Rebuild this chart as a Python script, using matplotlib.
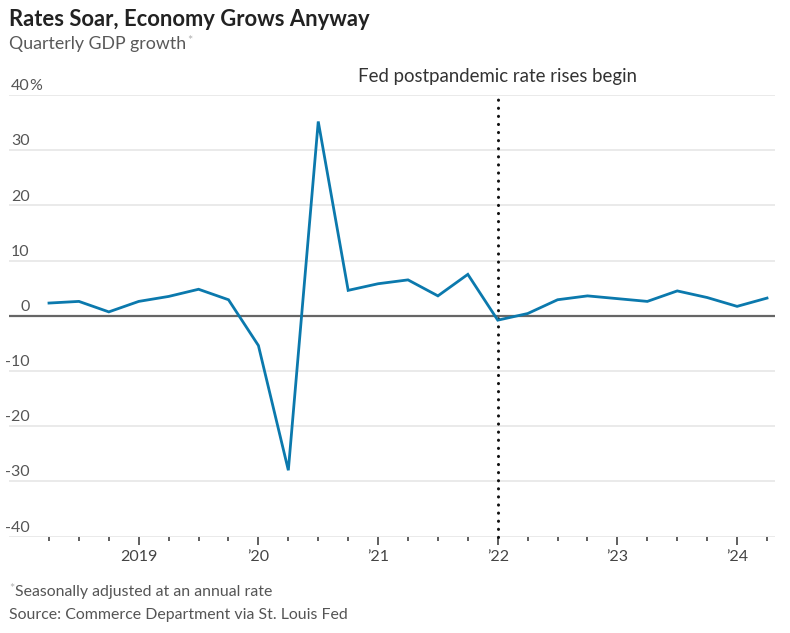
"""
Rates Soar, Economy Grows Anyway - quarterly GDP growth chart
"""
import matplotlib
matplotlib.use("Agg")
import matplotlib.pyplot as plt
import matplotlib.transforms as mtransforms

# Dados (taxa anualizada, % trimestral)
quarters = ["2018Q2", "2018Q3", "2018Q4",
            "2019Q1", "2019Q2", "2019Q3", "2019Q4",
            "2020Q1", "2020Q2", "2020Q3", "2020Q4",
            "2021Q1", "2021Q2", "2021Q3", "2021Q4",
            "2022Q1", "2022Q2", "2022Q3", "2022Q4",
            "2023Q1", "2023Q2", "2023Q3", "2023Q4",
            "2024Q1", "2024Q2"]
gdp_growth = [2.3, 2.6, 0.7,
              2.6, 3.5, 4.8, 2.9,
              -5.4, -28.0, 35.2, 4.6,
              5.8, 6.5, 3.6, 7.5,
              -0.8, 0.4, 2.9, 3.6,
              3.1, 2.6, 4.5, 3.3,
              1.7, 3.2]

year_labels = ["2019", "\u201920", "\u201921", "\u201922", "\u201923", "\u201924"]
year_quarters = ["2019Q1", "2020Q1", "2021Q1", "2022Q1", "2023Q1", "2024Q1"]
y_ticks = [40, 30, 20, 10, 0, -10, -20, -30, -40]
event_quarter = "2022Q1"
event_label = "Fed postpandemic rate rises begin"

FONT = ["Lato", "DejaVu Sans"]
plt.rcParams["font.family"] = FONT

W, H = 790, 633
fig = plt.figure(figsize=(W / 100, H / 100), dpi=100)

# eixo posicionado em pixels
left, right, top, bottom = 9, 775, 95, 536.5
ax = fig.add_axes([left / W, 1 - bottom / H, (right - left) / W, (bottom - top) / H])

x = list(range(len(quarters)))
px_per_q = (767 - 49) / 24
ax.set_xlim(-(49 - left) / px_per_q, 24 + (right - 767) / px_per_q)
ax.set_ylim(-40, 40)

for s in ax.spines.values():
    s.set_visible(False)

# grade horizontal
for v in y_ticks:
    if v == 0:
        continue
    ax.axhline(v, color="#e4e4e4", lw=1.1, zorder=1)
ax.axhline(0, color="#666666", lw=1.6, zorder=2)

# linha vertical pontilhada (evento)
ev = quarters.index(event_quarter)
ax.plot([ev, ev], [-40, 40.5], color="#111111", lw=2.2,
        linestyle=(0, (0.05, 2.6)), dash_capstyle="round", zorder=3,
        clip_on=False)

# série principal
ax.plot(x, gdp_growth, color="#0b79ad", lw=2.0, zorder=4,
        solid_joinstyle="miter")

# ticks do eixo x
ax.set_xticks([quarters.index(q) for q in year_quarters])
ax.set_xticklabels(year_labels)
ax.set_xticks(x, minor=True)
ax.tick_params(axis="x", which="major", length=6, width=1.2, color="#444444",
               labelsize=11.5, labelcolor="#444444", pad=3.5)
ax.tick_params(axis="x", which="minor", length=3, width=1.2, color="#444444")
ax.set_yticks([])

# rótulos do eixo y (acima das linhas de grade)
trans = mtransforms.blended_transform_factory(fig.transFigure, ax.transData)
trans = mtransforms.offset_copy(trans, fig=fig, y=3.5, units="points")
for v in y_ticks:
    ax.text(29.5 / W, v, str(v), transform=trans, ha="right", va="baseline",
            fontsize=11.5, color="#555555")
    if v == 40:
        ax.text(29.5 / W, v, "%", transform=trans, ha="left", va="baseline",
                fontsize=11.5, color="#555555")

# anotação
ev_x = (49 + ev * px_per_q) / W
fig.text(ev_x, 1 - 82 / H, event_label,
         ha="center", va="baseline", fontsize=13.4, color="#333333")

# títulos
fig.text(9 / W, 1 - 26 / H, "Rates Soar, Economy Grows Anyway",
         ha="left", va="baseline", fontsize=15.8, fontweight="bold", color="#222222")
sub = fig.text(9 / W, 1 - 49 / H, "Quarterly GDP growth",
               ha="left", va="baseline", fontsize=12.8, color="#595959")
fig.canvas.draw()
bb = sub.get_window_extent()
fig.text((bb.x1 + 1) / W, 1 - 45 / H, "*", ha="left", va="baseline",
         fontsize=9, color="#b0b0b0")

# notas de rodapé
fig.text(15 / W, 1 - 596 / H, "Seasonally adjusted at an annual rate",
         ha="left", va="baseline", fontsize=11.4, color="#555555")
fig.text(9 / W, 1 - 593 / H, "*", ha="left", va="baseline",
         fontsize=9, color="#b0b0b0")
fig.text(9 / W, 1 - 619 / H, "Source: Commerce Department via St. Louis Fed",
         ha="left", va="baseline", fontsize=11.4, color="#555555")

fig.savefig("out.png", dpi=100)
